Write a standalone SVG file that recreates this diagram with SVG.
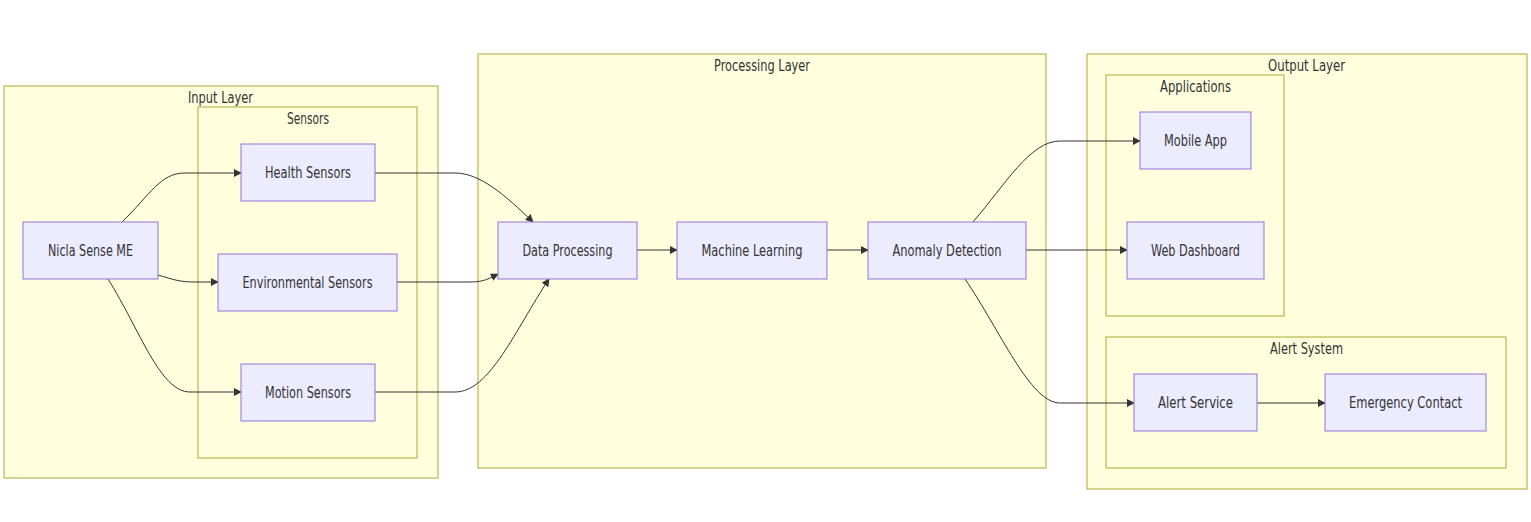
<svg xmlns="http://www.w3.org/2000/svg" width="1531" height="522" viewBox="0 0 1531 522">
<style>
.cl{fill:#ffffde;stroke:#aaaa33;stroke-width:1}
.nd{fill:#ececff;stroke:#9370db;stroke-width:1}
.t{font-family:"DejaVu Sans Condensed","Liberation Sans",sans-serif;font-size:15.5px;fill:#333;text-anchor:middle;dominant-baseline:central}
.e{fill:none;stroke:#333;stroke-width:1;marker-end:url(#ah)}
</style>
<defs>
<marker id="ah" viewBox="0 0 10 10" refX="9" refY="5" markerWidth="8" markerHeight="8" orient="auto" markerUnits="userSpaceOnUse">
<path d="M0,0 L10,5 L0,10 z" fill="#333"/>
</marker>
</defs>
<rect width="1531" height="522" fill="#fff"/>
<g id="cluster-input"><rect class="cl" x="4" y="86" width="434" height="392"/><text class="t" x="220.5" y="98" textLength="65" lengthAdjust="spacingAndGlyphs">Input Layer</text></g>
<g id="cluster-sensors"><rect class="cl" x="198" y="107" width="219" height="351"/><text class="t" x="308" y="119" textLength="42" lengthAdjust="spacingAndGlyphs">Sensors</text></g>
<g id="cluster-processing"><rect class="cl" x="478" y="54" width="568" height="414"/><text class="t" x="762" y="66" textLength="96" lengthAdjust="spacingAndGlyphs">Processing Layer</text></g>
<g id="cluster-output"><rect class="cl" x="1087" y="54" width="440" height="435"/><text class="t" x="1306.5" y="66" textLength="77" lengthAdjust="spacingAndGlyphs">Output Layer</text></g>
<g id="cluster-apps"><rect class="cl" x="1106" y="75" width="178" height="241"/><text class="t" x="1195.5" y="87" textLength="71" lengthAdjust="spacingAndGlyphs">Applications</text></g>
<g id="cluster-alert"><rect class="cl" x="1106" y="337" width="400" height="131"/><text class="t" x="1306.5" y="349" textLength="73" lengthAdjust="spacingAndGlyphs">Alert System</text></g>

<g id="connectors">
<path class="e" d="M122,222 C150,195 160,173 185,173 L241,173"/>
<path class="e" d="M158,275 C175,280 180,282 195,282 L218,282"/>
<path class="e" d="M108,279 C140,330 160,392 190,392 L241,392"/>
<path class="e" d="M375,173 L455,173 C480,173 505,195 533,222"/>
<path class="e" d="M397,282 L470,282 C485,282 490,278 498,274"/>
<path class="e" d="M375,392 L455,392 C490,392 515,330 549,279"/>
<path class="e" d="M637,250 L677,250"/>
<path class="e" d="M827,250 L868,250"/>
<path class="e" d="M973,222 C1005,185 1030,141 1060,141 L1140,141"/>
<path class="e" d="M1026,250 L1127,250"/>
<path class="e" d="M965,279 C1000,330 1030,403 1060,403 L1134,403"/>
<path class="e" d="M1257,403 L1325,403"/>
</g>

<g id="node-nicla"><rect class="nd" x="23" y="222" width="135" height="57"/><text class="t" x="90.5" y="250.5" textLength="85" lengthAdjust="spacingAndGlyphs">Nicla Sense ME</text></g>
<g id="node-health"><rect class="nd" x="241" y="144" width="134" height="57"/><text class="t" x="308" y="172.5" textLength="86" lengthAdjust="spacingAndGlyphs">Health Sensors</text></g>
<g id="node-env"><rect class="nd" x="218" y="254" width="179" height="57"/><text class="t" x="307.5" y="282.5" textLength="130" lengthAdjust="spacingAndGlyphs">Environmental Sensors</text></g>
<g id="node-motion"><rect class="nd" x="241" y="364" width="134" height="57"/><text class="t" x="308" y="392.5" textLength="86" lengthAdjust="spacingAndGlyphs">Motion Sensors</text></g>
<g id="node-dp"><rect class="nd" x="498" y="222" width="139" height="57"/><text class="t" x="567.5" y="250.5" textLength="90" lengthAdjust="spacingAndGlyphs">Data Processing</text></g>
<g id="node-ml"><rect class="nd" x="677" y="222" width="150" height="57"/><text class="t" x="752" y="250.5" textLength="101" lengthAdjust="spacingAndGlyphs">Machine Learning</text></g>
<g id="node-ad"><rect class="nd" x="868" y="222" width="158" height="57"/><text class="t" x="947" y="250.5" textLength="109" lengthAdjust="spacingAndGlyphs">Anomaly Detection</text></g>
<g id="node-mobile"><rect class="nd" x="1140" y="112" width="111" height="57"/><text class="t" x="1195.5" y="140.5" textLength="63" lengthAdjust="spacingAndGlyphs">Mobile App</text></g>
<g id="node-web"><rect class="nd" x="1127" y="222" width="137" height="57"/><text class="t" x="1195.5" y="250.5" textLength="89" lengthAdjust="spacingAndGlyphs">Web Dashboard</text></g>
<g id="node-alert"><rect class="nd" x="1134" y="374" width="123" height="57"/><text class="t" x="1195.5" y="402.5" textLength="75" lengthAdjust="spacingAndGlyphs">Alert Service</text></g>
<g id="node-emergency"><rect class="nd" x="1325" y="374" width="161" height="57"/><text class="t" x="1405.5" y="402.5" textLength="113" lengthAdjust="spacingAndGlyphs">Emergency Contact</text></g>
</svg>
